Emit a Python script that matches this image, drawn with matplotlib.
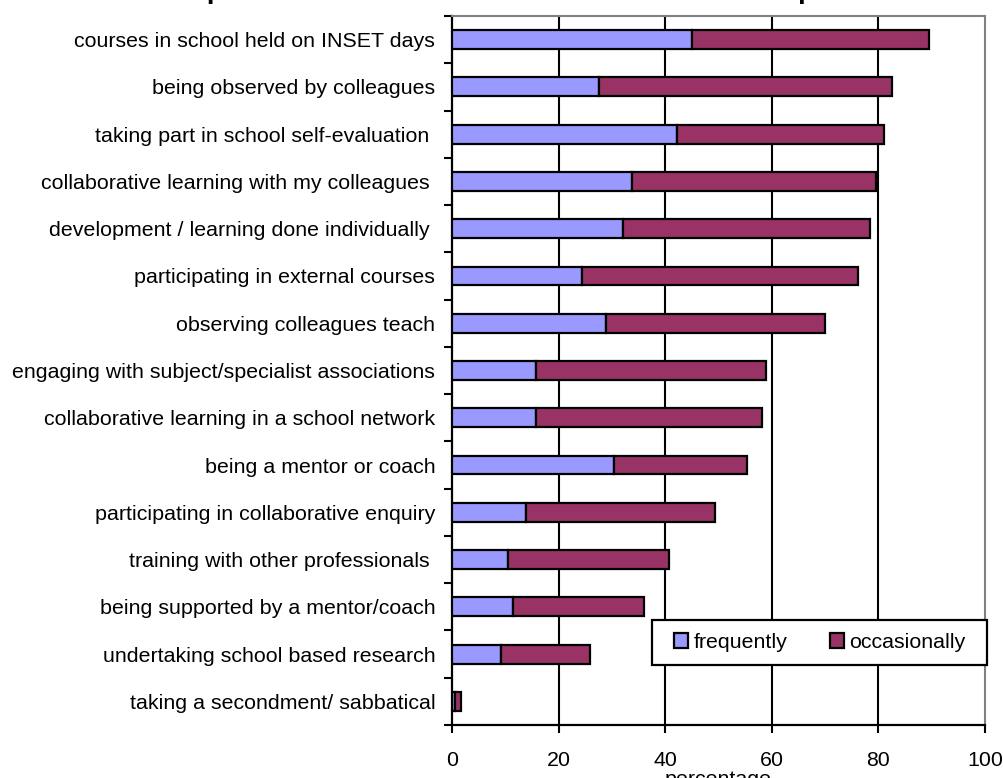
import matplotlib.pyplot as plt
import numpy as np
from matplotlib.patches import Rectangle
from matplotlib.ticker import FixedLocator, NullFormatter

plt.rcParams["font.family"] = ["Liberation Sans", "DejaVu Sans"]

activities = [
    "courses in school held on INSET days",
    "being observed by colleagues",
    "taking part in school self-evaluation ",
    "collaborative learning with my colleagues ",
    "development / learning done individually ",
    "participating in external courses",
    "observing colleagues teach",
    "engaging with subject/specialist associations",
    "collaborative learning in a school network",
    "being a mentor or coach",
    "participating in collaborative enquiry",
    "training with other professionals ",
    "being supported by a mentor/coach",
    "undertaking school based research",
    "taking a secondment/ sabbatical",
]
frequently = [45.1, 27.6, 42.3, 33.8, 32.1, 24.3, 28.8, 15.7, 15.8, 30.4, 13.8, 10.6, 11.4, 9.1, 0.6]
occasionally = [44.4, 55.0, 38.7, 45.7, 46.3, 51.9, 41.2, 43.3, 42.4, 24.9, 35.5, 30.1, 24.7, 16.8, 1.1]

title = "development activities in the last 12 months - all responses"
xticks = [0, 20, 40, 60, 80, 100]

FREQ_COLOR = "#9999FF"
OCC_COLOR = "#993366"
FS = 15.4

W, H = 1004, 778
fig = plt.figure(figsize=(W / 100, H / 100), dpi=100)
ax = fig.add_axes([452 / W, 1 - 725 / H, 533 / W, 709 / H])

y = np.arange(len(activities))
ax.barh(y, frequently, height=0.4, color=FREQ_COLOR, edgecolor="black",
        linewidth=1.6, label="frequently", zorder=3)
ax.barh(y, occasionally, left=frequently, height=0.4, color=OCC_COLOR,
        edgecolor="black", linewidth=1.6, label="occasionally", zorder=3)

ax.set_xlim(0, 100)
ax.set_ylim(len(activities) - 0.5, -0.5)

# category labels sit on the bar centres, tick marks go between the bars
ax.set_yticks(y)
ax.set_yticklabels(activities, fontsize=FS)
ax.tick_params(axis="y", which="major", length=0, pad=12)
ax.yaxis.set_minor_locator(FixedLocator(np.arange(-0.5, len(activities), 1.0)))
ax.yaxis.set_minor_formatter(NullFormatter())
ax.tick_params(axis="y", which="minor", length=6, width=1.5, direction="out")

ax.set_xticks(xticks)
ax.set_xticklabels([str(t) for t in xticks], fontsize=FS)
ax.tick_params(axis="x", length=6, width=1.5, direction="out", pad=13)
ax.set_xlabel("percentage", fontsize=FS, labelpad=0)

for t in xticks[1:-1]:
    ax.axvline(t, color="black", linewidth=1.5, zorder=1)

ax.spines["left"].set_linewidth(1.6)
ax.spines["bottom"].set_linewidth(1.6)
for side in ("top", "right"):
    ax.spines[side].set_color("#808080")
    ax.spines[side].set_linewidth(1.5)

# legend box with a plain black frame
box = Rectangle((652 / W, 1 - 665 / H), 335 / W, 45 / H, transform=fig.transFigure,
                facecolor="white", edgecolor="black", linewidth=1.6, zorder=6)
fig.patches.append(box)
leg = fig.legend(loc="center", bbox_to_anchor=(820 / W, 1 - 642.5 / H), ncol=2,
                 fontsize=FS, frameon=False, handlelength=0.65, handleheight=0.65,
                 handletextpad=0.25, columnspacing=2.0, borderpad=0, borderaxespad=0)
leg.set_zorder(7)

# the heading runs off the top edge of the page
fig.text(0.505, 1 + 1.5 / H, title, ha="center", va="baseline",
         fontsize=19.7, fontweight="bold")

fig.savefig("out.png", dpi=100)
